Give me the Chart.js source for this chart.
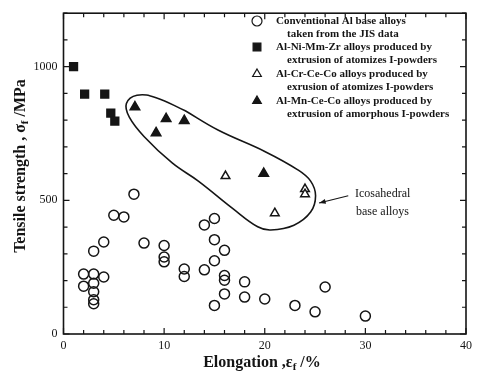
<!DOCTYPE html>
<html>
<head>
<meta charset="utf-8">
<script src="https://cdn.jsdelivr.net/npm/chart.js@4.4.1/dist/chart.umd.min.js"></script>
<style>
  html, body { margin: 0; padding: 0; background: #fff; }
  #wrap { width: 477px; height: 376px; }
</style>
</head>
<body>
<div id="wrap"><canvas id="chart" width="477" height="376"></canvas></div>
<script>
// Conventional Al base alloys (JIS data)
const convElong    = [2, 3, 2, 3, 3, 3, 3, 4, 3, 4, 5, 6, 7, 8, 10, 10, 10, 12, 12, 14, 14, 15, 15, 15, 15, 16, 16, 16, 16, 18, 18, 20, 23, 25, 26, 30];
const convStrength = [224, 224, 179, 190, 158, 128, 113, 213, 310, 344, 444, 438, 523, 340, 331, 288, 270, 243, 215, 240, 408, 432, 353, 274, 107, 313, 219, 201, 150, 195, 138, 131, 107, 83, 176, 67];

// Al-Ni-Mm-Zr, atomized I-powders
const niElong    = [1, 2.1, 4.1, 4.7, 5.1];
const niStrength = [1000, 897, 897, 826, 796];

// Al-Cr-Ce-Co, atomized I-powders
const crElong    = [16.1, 21.0, 24.0, 24.0];
const crStrength = [591, 452, 542, 523];

// Al-Mn-Ce-Co, amorphous I-powders
const mnElong    = [7.1, 9.2, 10.2, 12.0, 19.9];
const mnStrength = [849, 752, 805, 798, 600];

// outline drawn round the icosahedral alloys (closed loop)
const envElong    = [12.1, 15.4, 20.0, 23.25, 24.56, 25.05, 24.56, 22.9, 20.6, 19.3, 16.8, 13.4, 10.8, 8.0, 6.54, 6.25, 7.3, 9.2, 12.1];
const envStrength = [835, 762, 683, 615, 572, 517, 456, 407, 389, 401, 470, 572, 640, 739, 811, 862, 893, 884, 835];

const xTickLabels = [0, 10, 20, 30, 40];
const yTickLabels = [0, 500, 1000];

const pts = (xs, ys) => xs.map((v, i) => ({ x: v, y: ys[i] }));

const INK = '#151515';
const SERIF = "'Liberation Serif', 'DejaVu Serif', serif";

const legendRows = [
  { style: 'circle', fill: false, lines: ['Conventional Al base alloys', 'taken from the JIS data'] },
  { style: 'rect', fill: true, lines: ['Al-Ni-Mm-Zr alloys produced by', 'extrusion of atomizes I-powders'] },
  { style: 'triangle', fill: false, lines: ['Al-Cr-Ce-Co alloys produced by', 'exrusion of atomizes I-powders'] },
  { style: 'triangle', fill: true, lines: ['Al-Mn-Ce-Co alloys produced by', 'extrusion of amorphous I-powders'] }
];

function drawWithSub(ctx, parts, x, y, align) {
  // parts: [text, isSub]
  const big = 'bold 16px ' + SERIF, small = 'bold 11px ' + SERIF;
  let w = 0;
  parts.forEach(p => { ctx.font = p[1] ? small : big; w += ctx.measureText(p[0]).width; });
  let cx = align === 'center' ? x - w / 2 : x;
  ctx.textAlign = 'left';
  ctx.textBaseline = 'alphabetic';
  parts.forEach(p => {
    ctx.font = p[1] ? small : big;
    ctx.fillText(p[0], cx, y + (p[1] ? 3 : 0));
    cx += ctx.measureText(p[0]).width;
  });
}

const framePlugin = {
  id: 'frame',
  afterDraw(chart) {
    const { ctx, chartArea: a, scales: { x, y } } = chart;
    ctx.save();
    ctx.strokeStyle = INK;
    ctx.fillStyle = INK;
    ctx.lineWidth = 1.6;
    ctx.strokeRect(a.left, a.top, a.right - a.left, a.bottom - a.top);

    // inward tick marks on all four sides
    ctx.lineWidth = 1.2;
    ctx.beginPath();
    for (let v = 0; v <= 40; v += 2) {
      const px = x.getPixelForValue(v);
      const len = v % 10 === 0 ? 6 : 4;
      ctx.moveTo(px, a.bottom); ctx.lineTo(px, a.bottom - len);
      ctx.moveTo(px, a.top); ctx.lineTo(px, a.top + len);
    }
    for (let v = 0; v <= 1200; v += 100) {
      const py = y.getPixelForValue(v);
      const len = v % 500 === 0 ? 6 : 4;
      ctx.moveTo(a.left, py); ctx.lineTo(a.left + len, py);
      ctx.moveTo(a.right, py); ctx.lineTo(a.right - len, py);
    }
    ctx.stroke();

    // axis titles
    drawWithSub(ctx, [['Elongation ,ε', false], ['f', true], [' /%', false]], 262, 367, 'center');
    ctx.save();
    ctx.translate(25, 166);
    ctx.rotate(-Math.PI / 2);
    drawWithSub(ctx, [['Tensile strength , σ', false], ['f', true], [' /MPa', false]], 0, 0, 'center');
    ctx.restore();

    // legend
    const mx = 257, tx = 276, tx2 = 287;
    const rowY = [21, 47, 74, 101];
    legendRows.forEach((r, i) => {
      const cy = rowY[i];
      ctx.fillStyle = r.fill ? INK : '#fff';
      Chart.helpers.drawPoint(ctx, {
        pointStyle: r.style, radius: r.style === 'rect' ? 5.5 : 5, borderWidth: 1.4
      }, mx, cy);
      ctx.fillStyle = INK;
      ctx.font = 'bold 11px ' + SERIF;
      ctx.textBaseline = 'middle';
      ctx.textAlign = 'left';
      ctx.fillText(r.lines[0], tx, cy);
      ctx.fillText(r.lines[1], tx2, cy + 13.5);
    });

    // annotation arrow and label
    const ax0 = x.getPixelForValue(28.3), ay0 = y.getPixelForValue(517);
    const ax1 = x.getPixelForValue(25.4), ay1 = y.getPixelForValue(490);
    ctx.lineWidth = 1.2;
    ctx.beginPath();
    ctx.moveTo(ax0, ay0); ctx.lineTo(ax1, ay1); ctx.stroke();
    const ang = Math.atan2(ay1 - ay0, ax1 - ax0);
    ctx.beginPath();
    ctx.moveTo(ax1, ay1);
    ctx.lineTo(ax1 - 7 * Math.cos(ang - 0.35), ay1 - 7 * Math.sin(ang - 0.35));
    ctx.lineTo(ax1 - 7 * Math.cos(ang + 0.35), ay1 - 7 * Math.sin(ang + 0.35));
    ctx.closePath();
    ctx.fill();
    ctx.font = '12px ' + SERIF;
    ctx.textBaseline = 'middle';
    ctx.fillText('Icosahedral', 355, 194);
    ctx.fillText('base alloys', 356, 212);
    ctx.restore();
  }
};

const marker = { borderColor: INK, borderWidth: 1.5, pointHoverRadius: 5 };

new Chart(document.getElementById('chart'), {
  type: 'scatter',
  data: {
    datasets: [
      { label: 'envelope', data: pts(envElong, envStrength), showLine: true, tension: 0.4,
        pointRadius: 0, borderColor: INK, borderWidth: 1.6, fill: false },
      { label: 'Conventional', data: pts(convElong, convStrength), pointStyle: 'circle',
        pointRadius: 5, backgroundColor: 'rgba(0,0,0,0)', ...marker },
      { label: 'Al-Ni-Mm-Zr', data: pts(niElong, niStrength), pointStyle: 'rect',
        pointRadius: 5.5, backgroundColor: INK, ...marker },
      { label: 'Al-Cr-Ce-Co', data: pts(crElong, crStrength), pointStyle: 'triangle',
        pointRadius: 5, backgroundColor: '#fff', ...marker },
      { label: 'Al-Mn-Ce-Co', data: pts(mnElong, mnStrength), pointStyle: 'triangle',
        pointRadius: 5.5, backgroundColor: INK, ...marker }
    ]
  },
  options: {
    responsive: false,
    animation: false,
    layout: { padding: { top: 7, right: 6, left: 0, bottom: 0 } },
    plugins: { legend: { display: false }, tooltip: { enabled: false } },
    scales: {
      x: {
        type: 'linear', min: 0, max: 40,
        grid: { display: false, drawTicks: false },
        border: { display: false },
        ticks: { color: INK, padding: 5, maxRotation: 0, font: { family: SERIF, size: 12 },
          callback: v => String(v) },
        afterBuildTicks: s => { s.ticks = xTickLabels.map(v => ({ value: v })); },
        afterFit: s => { s.height = 42; }
      },
      y: {
        type: 'linear', min: 0, max: 1200,
        grid: { display: false, drawTicks: false },
        border: { display: false },
        ticks: { color: INK, padding: 6, font: { family: SERIF, size: 12 },
          callback: v => String(v) },
        afterBuildTicks: s => { s.ticks = yTickLabels.map(v => ({ value: v })); },
        afterFit: s => { s.width = 63.5; }
      }
    }
  },
  plugins: [framePlugin]
});
</script>
</body>
</html>
